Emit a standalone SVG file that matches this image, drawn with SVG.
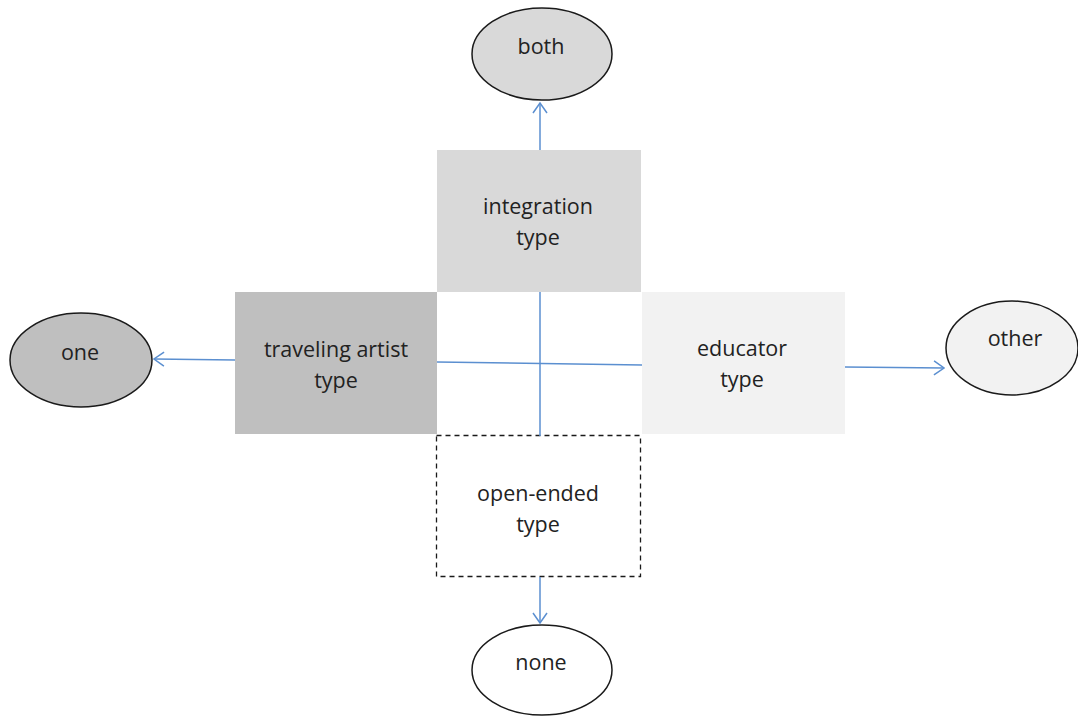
<svg xmlns="http://www.w3.org/2000/svg" width="1078" height="716" viewBox="0 0 1078 716">
<defs>
<style>
.t{font-family:"Open Sans","Liberation Sans",sans-serif;font-size:21.5px;fill:#222;text-anchor:middle}
.e{stroke:#1a1a1a;stroke-width:1.5}
.c{stroke:#5b8fd0;stroke-width:1.5;fill:none}
</style>
<marker id="ah" viewBox="0 0 12 16" refX="11" refY="8" markerWidth="12" markerHeight="16" markerUnits="userSpaceOnUse" orient="auto">
<path d="M1,1 L11,8 L1,15" fill="none" stroke="#5b8fd0" stroke-width="1.5"/>
</marker>
</defs>
<rect width="1078" height="716" fill="#fff"/>
<g id="integration"><rect x="437" y="150" width="204" height="142" fill="#d9d9d9"/><text class="t" x="538" y="214">integration</text><text class="t" x="538" y="245">type</text></g>
<g id="traveling"><rect x="235" y="292" width="202" height="142" fill="#bfbfbf"/><text class="t" x="336" y="357">traveling artist</text><text class="t" x="336" y="388">type</text></g>
<g id="educator"><rect x="642" y="292" width="203" height="142" fill="#f2f2f2"/><text class="t" x="742" y="356">educator</text><text class="t" x="742" y="387">type</text></g>
<g id="openended"><rect x="436.5" y="435.5" width="204" height="141" fill="#fff" stroke="#1a1a1a" stroke-width="1.3" stroke-dasharray="5,4"/><text class="t" x="538" y="501">open-ended</text><text class="t" x="538" y="532">type</text></g>
<g id="both"><ellipse class="e" cx="542" cy="54" rx="70" ry="46" fill="#d9d9d9"/><text class="t" x="541" y="54">both</text></g>
<g id="one"><ellipse class="e" cx="81" cy="360" rx="71" ry="47" fill="#bfbfbf"/><text class="t" x="80" y="360">one</text></g>
<g id="other"><ellipse class="e" cx="1012" cy="348" rx="66" ry="47" fill="#f2f2f2"/><text class="t" x="1015" y="346">other</text></g>
<g id="none"><ellipse class="e" cx="542" cy="670" rx="70" ry="45" fill="#fff"/><text class="t" x="541" y="670">none</text></g>
<g id="connectors">
<line class="c" x1="437" y1="362" x2="642" y2="365"/>
<line class="c" x1="540" y1="292" x2="540" y2="436"/>
<line class="c" x1="540" y1="150" x2="540" y2="103" marker-end="url(#ah)"/>
<line class="c" x1="540" y1="577" x2="540" y2="623" marker-end="url(#ah)"/>
<line class="c" x1="235" y1="360" x2="154" y2="359" marker-end="url(#ah)"/>
<line class="c" x1="845" y1="367" x2="944" y2="368" marker-end="url(#ah)"/>
</g>
</svg>
